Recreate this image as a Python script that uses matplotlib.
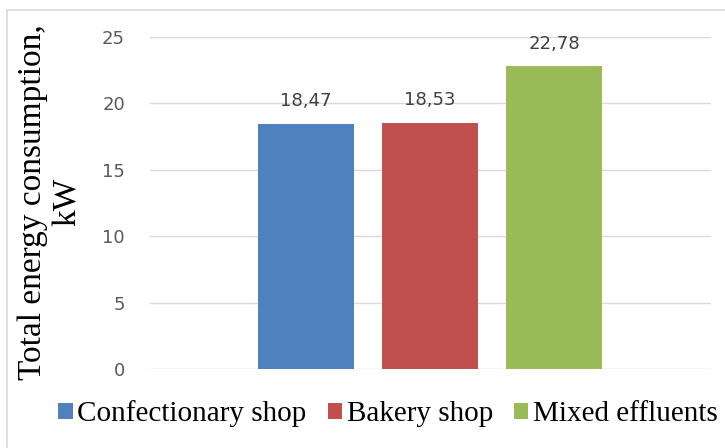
import matplotlib.pyplot as plt
from matplotlib.patches import Rectangle

series = ["Confectionary shop", "Bakery shop", "Mixed effluents"]
values = [18.47, 18.53, 22.78]
colors = ["#4F81BD", "#C0504D", "#9BBB59"]
yticks = [0, 5, 10, 15, 20, 25]

fig = plt.figure(figsize=(7.25, 4.48), dpi=100)
fig.patches.append(Rectangle((7 / 725, -0.05), 1.05, 1 - 10 / 448 + 0.05, transform=fig.transFigure,
                             fill=False, edgecolor="#d9d9d9", linewidth=1.2))
ax = fig.add_axes([150 / 725, 1 - 369 / 448, 561 / 725, 332 / 448])

positions = [i - 1 for i in range(len(series))]
bars = ax.bar(positions, values, width=0.78, color=colors, label=series, zorder=3)
for bar, v in zip(bars, values):
    ax.annotate(f"{v:.2f}".replace(".", ","), (bar.get_x() + bar.get_width() / 2, v),
                xytext=(0, 10), textcoords="offset points", ha="center", va="bottom",
                fontsize=13, color="#404040", family="DejaVu Sans")

ax.set_xlim(-2.258, 2.266)
ax.set_ylim(0, 25)
ax.set_yticks(yticks)
ax.set_xticks([])
ax.grid(axis="y", color="#d9d9d9", linewidth=1, zorder=0)
ax.tick_params(axis="y", length=0, pad=18, labelsize=13, labelcolor="#595959")
for s in ax.spines.values():
    s.set_visible(False)

fig.text(50 / 725, 1 - 202 / 448, "Total energy consumption,\nkW", rotation=90,
         ha="center", va="center", multialignment="center",
         family="Liberation Serif", fontsize=24, linespacing=1.18)

fig.legend(handles=bars, labels=series, loc="center", bbox_to_anchor=(388 / 725, 1 - 414 / 448),
           ncol=3, frameon=False, prop={"family": "Liberation Serif", "size": 21},
           handlelength=0.5, handleheight=0.5, handletextpad=0.15, columnspacing=0.72)

fig.savefig("out.png", dpi=100)
